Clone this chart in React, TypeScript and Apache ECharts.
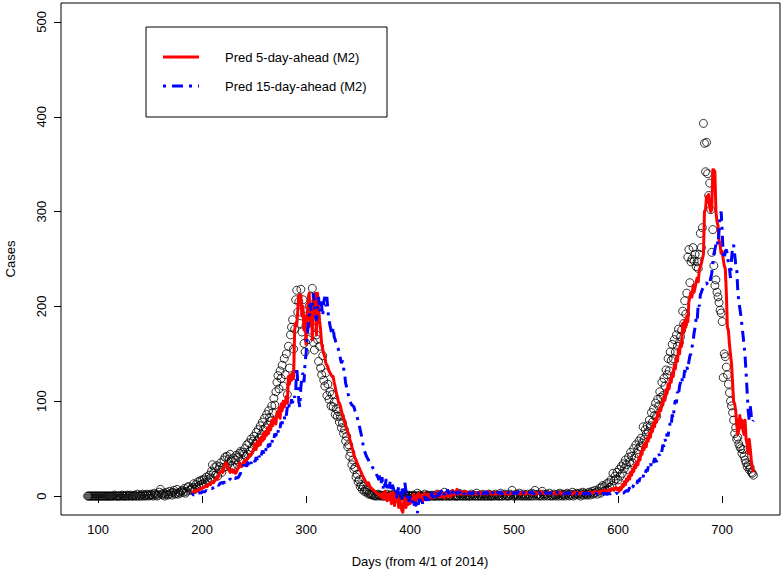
import React, { useEffect, useRef } from "react";
import * as echarts from "echarts";

// Observed daily cases, day 90 .. 730
const OBS_START = 90;
const observed: number[] = [
  0,
  0,0,0,0,0,0,0,0,0,0,
  0,0,0,0,0,0,0,0,0,0,
  0,0,0,0,0,1,0,0,0,0,
  0,0,1,0,0,0,0,1,0,0,
  1,0,0,0,1,0,0,2,0,0,
  1,0,2,0,1,0,2,1,0,1,
  2,1,0,3,1,2,0,1,4,7,
  2,1,3,0,2,4,1,2,5,3,
  1,4,6,2,3,7,2,4,3,5,
  6,4,8,3,5,9,10,6,7,8,
  9,13,7,12,9,15,11,16,12,17,
  13,18,14,20,17,15,22,19,26,33,
  24,30,22,32,21,28,31,35,25,30,
  38,41,31,42,33,39,44,37,32,40,
  30,38,43,33,41,45,47,36,46,44,
  50,42,54,44,56,47,60,51,58,63,
  55,67,58,70,61,74,65,78,70,82,
  72,86,75,90,83,79,95,88,103,96,
  110,120,127,113,132,124,138,116,145,128,
  150,107,158,135,170,178,186,155,176,207,
  217,194,205,182,218,173,207,161,152,180,
  190,165,200,175,210,219,162,154,185,170,
  165,142,158,135,128,148,122,116,130,106,
  118,102,110,95,107,94,99,86,92,84,
  89,78,84,72,77,66,70,58,63,52,
  54,42,46,33,38,28,30,20,23,15,
  17,10,12,7,10,5,7,4,6,2,
  3,2,1,2,1,0,1,0,2,1,
  0,1,0,0,1,0,0,2,0,0,
  1,0,0,2,0,1,0,0,3,0,
  0,1,0,0,2,0,0,1,0,0,
  0,0,1,0,0,0,3,0,1,0,
  0,0,0,2,0,0,1,0,0,0,
  1,0,0,0,0,2,0,0,1,0,
  0,0,4,0,0,1,0,0,0,2,
  0,1,0,0,0,0,3,0,1,0,
  0,2,0,0,1,0,0,0,2,0,
  1,0,0,3,0,0,1,0,0,2,
  0,0,1,0,0,2,0,0,0,1,
  0,2,0,1,0,0,3,0,0,1,
  2,0,1,0,0,2,1,6,0,1,
  0,2,0,1,3,0,1,0,2,0,
  1,0,2,0,1,0,3,0,2,6,
  0,1,2,0,1,0,5,2,0,1,
  2,0,1,3,0,1,0,2,1,0,
  1,2,0,3,1,0,2,1,0,2,
  3,1,0,2,1,4,0,2,1,3,
  2,1,3,0,2,4,1,3,2,1,
  2,4,1,3,5,2,3,6,4,2,
  5,8,3,9,11,5,10,6,13,7,
  14,9,17,11,24,16,21,18,25,17,
  28,21,31,24,34,29,38,33,28,41,
  36,46,42,35,50,40,54,45,49,58,
  52,61,56,73,60,70,65,74,68,80,
  74,88,78,92,85,98,84,102,95,110,
  104,120,106,124,116,133,128,145,132,152,
  143,160,145,165,152,170,158,176,162,168,
  175,195,182,206,192,214,252,260,225,247,
  250,262,248,255,242,247,240,255,277,262,
  283,393,372,342,373,340,317,330,302,257,
  281,243,222,228,215,210,204,196,193,184,
  125,150,147,136,128,118,109,100,95,88,
  80,66,72,60,62,55,52,50,45,49,
  42,38,35,31,33,28,30,25,24,22,
];

// Predictions, day 190 .. 730
const PRED_START = 190;
const pred5: number[] = [
  3,4,5,4,6,6,5,7,8,7,
  8,9,9,10,11,10,12,13,12,14,
  15,14,16,17,20,18,22,24,26,27,
  25,30,34,35,33,30,27,25,26,28,
  25,27,24,25,28,30,35,32,31,34,
  36,38,35,38,40,42,44,43,45,48,
  50,55,49,57,53,60,54,62,58,66,
  60,68,64,72,66,75,70,80,74,82,
  80,76,88,84,93,82,97,90,100,94,
  98,105,98,126,118,128,122,130,124,175,
  182,180,195,212,205,212,190,200,175,190,
  160,190,205,214,180,200,165,210,195,214,
  170,214,200,185,175,160,155,150,147,140,
  138,136,132,130,128,126,126,120,115,109,
  105,100,98,95,90,85,82,80,75,70,
  68,65,60,56,52,48,44,40,38,35,
  32,30,27,25,22,20,18,16,14,12,
  14,11,9,8,7,6,5,4,3,2,
  1,0,2,-2,3,-3,5,0,-5,2,
  -4,3,-8,-2,4,-10,0,-6,2,-12,
  -4,-8,-15,-17,-6,-2,-12,-5,-9,-3,
  -8,-2,-6,2,-4,-7,0,-3,3,-5,
  -2,1,-6,0,3,-4,-1,2,-3,0,
  2,-2,1,3,-1,0,2,5,-1,1,
  0,3,1,-2,2,4,0,1,3,-1,
  2,6,3,1,4,7,2,3,5,2,
  3,4,2,5,3,2,4,3,2,3,
  2,3,4,2,3,2,3,4,2,3,
  3,2,4,3,2,3,5,3,2,3,
  2,3,2,4,3,2,3,2,4,3,
  3,2,3,4,2,3,2,3,3,4,
  3,4,3,2,3,4,2,3,4,3,
  3,2,4,3,3,2,3,4,2,3,
  4,3,2,3,4,3,5,4,3,3,
  2,3,3,4,2,3,3,2,3,4,
  3,2,3,3,4,3,2,3,3,2,
  3,3,2,4,3,3,2,3,4,3,
  3,4,3,2,3,3,4,3,3,2,
  3,3,4,3,3,4,3,4,5,4,
  4,3,5,4,5,6,4,5,6,5,
  6,5,7,6,8,7,6,8,9,7,
  8,5,9,7,12,10,15,12,18,16,
  21,18,25,22,28,26,33,30,36,33,
  41,38,47,44,53,49,56,52,61,58,
  66,62,72,68,77,73,82,78,88,84,
  93,90,99,96,105,101,112,108,118,113,
  124,120,130,126,138,134,146,142,155,150,
  162,158,182,172,185,178,190,184,205,210,
  215,210,222,215,220,226,230,226,238,242,
  245,250,255,300,302,316,310,318,305,300,
  302,344,344,342,300,290,285,270,265,256,
  258,250,243,240,215,178,175,160,150,140,
  120,100,97,90,75,65,70,85,72,80,
  70,65,80,60,55,45,60,50,38,30,25,
];

const pred15: number[] = [
  1,2,1,2,3,2,3,3,4,3,
  4,5,4,5,6,5,6,7,8,8,
  8,9,10,9,11,12,11,13,14,14,
  13,15,14,16,17,16,17,18,17,18,
  17,19,18,20,19,20,22,24,28,30,
  33,30,34,31,36,33,37,34,38,36,
  38,36,41,38,44,41,46,43,48,45,
  50,47,53,50,55,52,58,55,62,60,
  66,63,70,67,74,72,78,76,82,80,
  88,85,94,90,98,95,102,98,106,104,
  110,136,120,100,94,115,125,130,120,140,
  150,165,180,190,203,195,200,214,205,190,
  185,200,210,195,205,200,190,205,210,200,
  210,195,186,180,175,170,178,168,165,160,
  157,155,150,145,140,143,135,130,119,115,
  110,105,101,98,96,95,94,90,88,83,
  80,75,70,65,60,52,48,45,42,40,
  38,35,33,32,30,28,27,25,22,20,
  17,24,12,20,8,15,10,18,5,12,
  10,16,4,12,8,2,6,-2,4,10,
  6,0,-4,8,3,14,5,-3,2,-6,
  0,-5,-8,-3,-10,-6,-12,-18,-8,-3,
  -6,-2,-8,-4,0,-5,-1,-7,-2,2,
  0,4,-2,3,1,-1,5,2,0,3,
  6,2,4,1,5,3,7,2,6,3,
  2,5,3,6,4,2,5,3,4,2,
  3,5,2,4,3,5,2,4,3,2,
  4,3,2,5,3,4,2,3,5,3,
  2,4,3,3,5,2,4,3,2,4,
  3,5,3,2,4,3,3,5,2,3,
  4,3,2,4,3,5,3,2,4,3,
  3,4,2,3,5,3,4,2,3,4,
  2,3,4,3,2,4,3,5,3,2,
  4,3,3,2,4,3,5,3,2,3,
  3,4,2,3,3,4,2,3,4,3,
  2,3,4,3,2,3,4,3,2,3,
  3,2,3,4,3,2,3,3,4,3,
  2,3,3,2,4,3,2,3,3,2,
  3,2,3,2,3,3,2,3,2,3,
  2,3,2,3,2,2,3,2,3,2,
  2,3,2,3,2,3,3,2,3,3,
  2,3,3,4,3,3,4,5,6,5,
  6,9,7,10,9,12,11,14,13,17,
  15,19,18,22,20,25,23,28,26,31,
  29,34,32,37,35,40,38,36,41,44,
  43,49,47,54,52,60,57,66,63,72,
  77,74,86,82,95,101,98,110,106,116,
  120,117,127,124,133,130,136,133,142,148,
  150,157,162,172,178,188,185,203,200,212,
  215,218,220,222,224,225,223,222,225,230,
  235,245,255,260,265,270,265,280,295,300,
  280,255,250,258,260,255,245,240,230,250,
  262,265,255,245,240,217,205,198,190,180,
  170,160,148,130,110,90,80,95,85,78,80,
];

const xTicks = [100, 200, 300, 400, 500, 600, 700];
const yTicks = [0, 100, 200, 300, 400, 500];
const legendNames = ["Pred 5-day-ahead (M2)", "Pred 15-day-ahead (M2)"];
const xTitle = "Days (from 4/1 of 2014)";
const yTitle = "Cases";

const FONT = "Liberation Sans, Arial, Helvetica, sans-serif";

export default function App() {
  const ref = useRef<HTMLDivElement>(null);
  useEffect(() => {
    if (!ref.current) return;
    const chart = echarts.init(ref.current, undefined, { renderer: "svg" });
    const obsData = observed.map((v, i) => [OBS_START + i, v]);
    const p5Data = pred5.map((v, i) => [PRED_START + i, v]);
    const p15Data = pred15.map((v, i) => [PRED_START + i, v]);
    chart.setOption({
      animation: false,
      backgroundColor: "#fff",
      textStyle: { fontFamily: FONT },
      grid: {
        left: 61,
        right: 2,
        top: 3,
        bottom: 63,
        show: true,
        borderColor: "#000",
        borderWidth: 1,
        backgroundColor: "transparent",
      },
      xAxis: {
        type: "value",
        min: 64.4,
        max: 755.6,
        axisLine: { show: false },
        splitLine: { show: false },
        axisTick: {
          show: true,
          inside: false,
          length: 7,
          lineStyle: { color: "#000", width: 1 },
          customValues: xTicks,
        },
        axisLabel: {
          show: true,
          margin: 8,
          color: "#000",
          fontSize: 13,
          fontFamily: FONT,
          customValues: xTicks,
        },
      },
      yAxis: {
        type: "value",
        min: -20,
        max: 520,
        axisLine: { show: false },
        splitLine: { show: false },
        axisTick: {
          show: true,
          inside: false,
          length: 7,
          lineStyle: { color: "#000", width: 1 },
          customValues: yTicks,
        },
        axisLabel: {
          show: true,
          rotate: 90,
          margin: 13,
          color: "#000",
          fontSize: 13,
          fontFamily: FONT,
          customValues: yTicks,
        },
      },
      series: [
        {
          type: "scatter",
          name: "Observed",
          data: obsData,
          symbol: "circle",
          symbolSize: 8,
          itemStyle: { color: "transparent", borderColor: "#000", borderWidth: 1 },
          silent: true,
          z: 2,
        },
        {
          type: "line",
          name: legendNames[0],
          data: p5Data,
          showSymbol: false,
          symbol: "none",
          lineStyle: { color: "#ff0000", width: 3, join: "round" },
          silent: true,
          z: 3,
        },
        {
          type: "line",
          name: legendNames[1],
          data: p15Data,
          showSymbol: false,
          symbol: "none",
          lineStyle: { color: "#0000ff", width: 3, type: [3, 6, 11, 6] },
          silent: true,
          z: 4,
        },
      ],
      graphic: [
        {
          type: "rect",
          shape: { x: 146, y: 27, width: 241, height: 90 },
          style: { fill: "#fff", stroke: "#000", lineWidth: 1 },
          z: 100,
        },
        {
          type: "line",
          shape: { x1: 163, y1: 57, x2: 199, y2: 57 },
          style: { stroke: "#ff0000", lineWidth: 3 },
          z: 101,
        },
        {
          type: "line",
          shape: { x1: 163, y1: 86, x2: 199, y2: 86 },
          style: { stroke: "#0000ff", lineWidth: 3, lineDash: [3, 6, 11, 6] },
          z: 101,
        },
        {
          type: "text",
          x: 225,
          y: 57,
          style: {
            text: legendNames[0],
            fontSize: 13,
            fontFamily: FONT,
            fill: "#000",
            textAlign: "left",
            textVerticalAlign: "middle",
          },
          z: 101,
        },
        {
          type: "text",
          x: 225,
          y: 86,
          style: {
            text: legendNames[1],
            fontSize: 13,
            fontFamily: FONT,
            fill: "#000",
            textAlign: "left",
            textVerticalAlign: "middle",
          },
          z: 101,
        },
        {
          type: "text",
          x: 420,
          y: 561,
          style: {
            text: xTitle,
            fontSize: 13,
            fontFamily: FONT,
            fill: "#000",
            textAlign: "center",
            textVerticalAlign: "middle",
          },
        },
        {
          type: "text",
          x: 10,
          y: 259,
          rotation: Math.PI / 2,
          style: {
            text: yTitle,
            fontSize: 13,
            fontFamily: FONT,
            fill: "#000",
            textAlign: "center",
            textVerticalAlign: "middle",
          },
        },
      ],
    });
    return () => chart.dispose();
  }, []);
  return (
    <div
      ref={ref}
      style={{ position: "absolute", left: 0, top: 0, width: 782, height: 578 }}
    />
  );
}
